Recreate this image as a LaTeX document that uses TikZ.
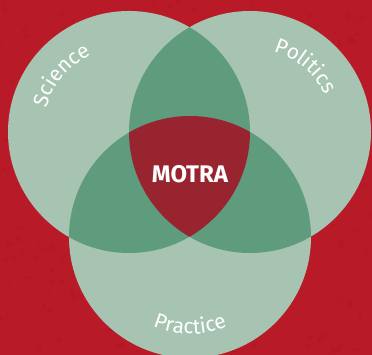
\documentclass[tikz,border=0pt]{standalone}
\usepackage{fontspec}
\setmainfont{Fira Sans}
\usetikzlibrary{decorations.text}
\definecolor{bgred}{HTML}{B91A28}
\definecolor{bgdark}{HTML}{A51522}
\definecolor{lightgreen}{HTML}{A6C4B1}
\definecolor{darkgreen}{HTML}{5E9C7D}
\definecolor{corered}{HTML}{98242F}
\tikzset{
  setfill/.style={fill=lightgreen},
  pairfill/.style={fill=darkgreen},
  arclabel/.style={decorate, decoration={text along path, text align=center,
     text color=white, text={|\fontsize{21}{21}\selectfont|#1}}},
  core/.style={text=white, font=\fontsize{24}{24}\selectfont\bfseries}
}
\begin{document}
\begin{tikzpicture}[x=1pt,y=1pt]
\def\r{121}
\fill[bgred] (0,0) rectangle (372,355);
\useasboundingbox (0,0) rectangle (372,355);
% subtle mottled texture of the background
\pgfmathsetseed{11}
\foreach \i in {1,...,260}{
  \pgfmathsetmacro{\px}{rnd*372}
  \pgfmathsetmacro{\py}{rnd*355}
  \pgfmathsetmacro{\pa}{1+rnd*4}
  \pgfmathsetmacro{\pb}{1+rnd*2}
  \pgfmathsetmacro{\pr}{rnd*180}
  \fill[bgdark, opacity=0.35, rotate around={\pr:(\px,\py)}] (\px,\py) ellipse ({\pa} and {\pb});
}
\coordinate (S) at (129,223);
\coordinate (P) at (250,223);
\coordinate (R) at (190,118);
% base circles
\fill[setfill] (S) circle (\r);
\fill[setfill] (P) circle (\r);
\fill[setfill] (R) circle (\r);
% pairwise intersections
\begin{scope}
  \clip (S) circle (\r);
  \fill[pairfill] (P) circle (\r);
  \fill[pairfill] (R) circle (\r);
\end{scope}
\begin{scope}
  \clip (P) circle (\r);
  \fill[pairfill] (R) circle (\r);
\end{scope}
% triple intersection
\begin{scope}
  \clip (S) circle (\r);
  \clip (P) circle (\r);
  \fill[corered] (R) circle (\r);
\end{scope}
\node[core] (motra) at (190,181) {MOTRA};
% labels along arcs
\path[arclabel=Science] (S) ++(178:86) arc (178:102:86);
\path[arclabel=Politics] (P) ++(88:84) arc (88:12:84);
\path[arclabel=Practice] (R) ++(230:97) arc (230:310:97);
\end{tikzpicture}
\end{document}
